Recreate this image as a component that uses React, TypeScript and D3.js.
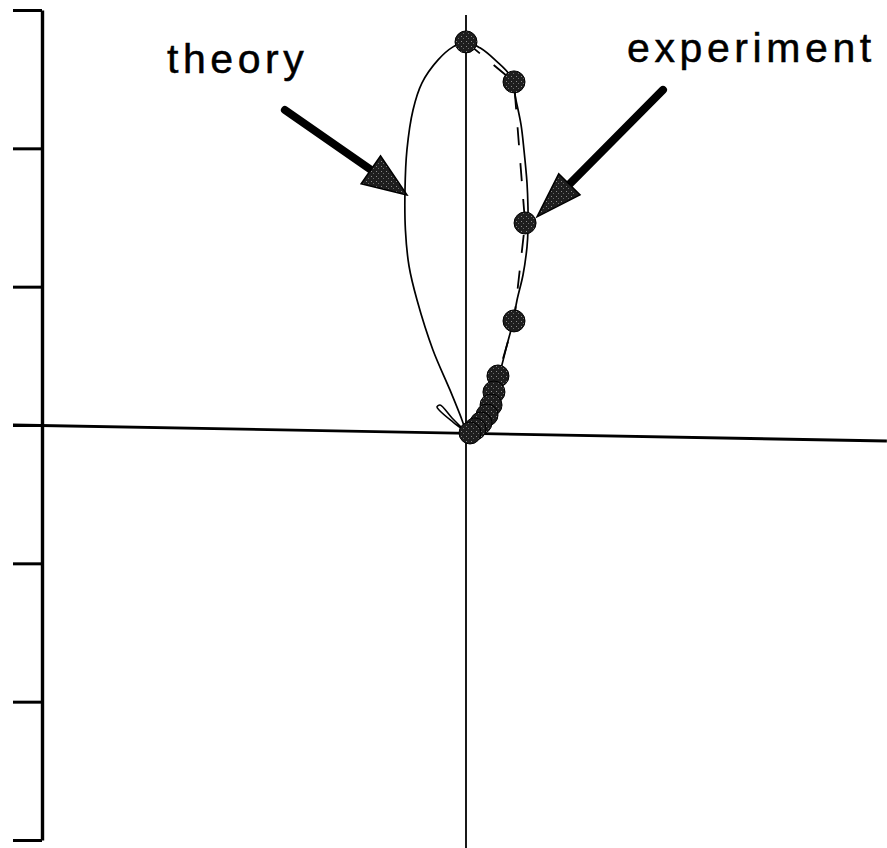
import React, { useEffect, useRef } from "react";
import * as d3 from "d3";

// Theory curve: main lobe traced from the origin up the left side, over the top and back down the right side
const theoryMainX = [0, -0.029, -0.116, -0.239, -0.354, -0.412, -0.438, -0.441, -0.427, -0.383, -0.318, -0.202, -0.094, 0, 0.101, 0.210, 0.325, 0.361, 0.398, 0.419, 0.441, 0.448, 0.448, 0.441, 0.412, 0.369, 0.340, 0.296, 0.239, 0.166, 0.080, 0];
const theoryMainY = [0, 0.087, 0.304, 0.593, 0.954, 1.200, 1.461, 1.750, 2.039, 2.328, 2.524, 2.690, 2.784, 2.820, 2.777, 2.690, 2.567, 2.401, 2.220, 2.039, 1.800, 1.627, 1.461, 1.338, 1.135, 0.954, 0.796, 0.629, 0.412, 0.217, 0.058, 0];
// Theory curve: small side lobe
const theoryLobeX = [0, -0.101, -0.188, -0.210, -0.188, -0.094, 0];
const theoryLobeY = [0, 0.101, 0.195, 0.181, 0.152, 0.072, 0];
// Measured points
const expX = [0, 0.347, 0.427, 0.347, 0.231, 0.202, 0.181, 0.152, 0.108, 0.065, 0.029];
const expY = [2.820, 2.531, 1.511, 0.803, 0.405, 0.289, 0.195, 0.123, 0.065, 0.022, -0.007];
// Left ruler tick values
const rulerTicks = [-3, -2, -1, 0, 1, 2, 3];
// Annotation labels
const labels = ["theory", "experiment"];

const W = 887;
const H = 848;

export default function App() {
  const ref = useRef<SVGSVGElement>(null);

  useEffect(() => {
    const svg = d3.select(ref.current);
    svg.selectAll("*").remove();

    const x = d3.scaleLinear().domain([-3, 3]).range([51, 881]);
    const y = d3.scaleLinear().domain([-3, 3]).range([847, 17]);
    const yRuler = d3.scaleLinear().domain([-3, 3]).range([840, 10]);

    const defs = svg.append("defs");
    const pat = defs
      .append("pattern")
      .attr("id", "speckle")
      .attr("patternUnits", "userSpaceOnUse")
      .attr("width", 5)
      .attr("height", 5);
    pat.append("rect").attr("width", 5).attr("height", 5).attr("fill", "#1e1e1e");
    pat.append("rect").attr("x", 1).attr("y", 1).attr("width", 1).attr("height", 1).attr("fill", "#8a8a8a");
    pat.append("rect").attr("x", 3).attr("y", 3).attr("width", 1).attr("height", 1).attr("fill", "#6a6a6a");

    svg.append("rect").attr("width", W).attr("height", H).attr("fill", "#fff");

    // Left ruler
    const ruler = d3
      .axisLeft(yRuler)
      .tickValues(rulerTicks)
      .tickSize(29)
      .tickSizeOuter(0)
      .tickFormat(() => "");
    const rg = svg.append("g").attr("transform", "translate(42,0)").call(ruler);
    rg.select(".domain").attr("stroke", "#000").attr("stroke-width", 3.4);
    rg.selectAll(".tick line").attr("stroke", "#000").attr("stroke-width", 3);

    // Horizontal axis (slightly skewed)
    const y0 = yRuler(0);
    svg
      .append("line")
      .attr("x1", 13)
      .attr("x2", W)
      .attr("y1", y0)
      .attr("y2", y0)
      .attr("transform", `rotate(1.05, 13, ${y0})`)
      .attr("stroke", "#000")
      .attr("stroke-width", 2.8);

    // Vertical axis through the origin
    svg
      .append("line")
      .attr("x1", x(0))
      .attr("x2", x(0))
      .attr("y1", 15)
      .attr("y2", H)
      .attr("stroke", "#000")
      .attr("stroke-width", 1.8);

    const line = d3
      .line<[number, number]>()
      .x((d) => x(d[0]))
      .y((d) => y(d[1]))
      .curve(d3.curveCatmullRom.alpha(0.5));

    const mainPts = theoryMainX.map((v, i) => [v, theoryMainY[i]] as [number, number]);
    const lobePts = theoryLobeX.map((v, i) => [v, theoryLobeY[i]] as [number, number]);
    const expPts = expX.map((v, i) => [v, expY[i]] as [number, number]);

    svg.append("path").attr("d", line(mainPts)).attr("fill", "none").attr("stroke", "#000").attr("stroke-width", 1.7);
    svg.append("path").attr("d", line(lobePts)).attr("fill", "none").attr("stroke", "#000").attr("stroke-width", 1.6);

    const straight = d3
      .line<[number, number]>()
      .x((d) => x(d[0]))
      .y((d) => y(d[1]));
    svg
      .append("path")
      .attr("d", straight(expPts))
      .attr("fill", "none")
      .attr("stroke", "#000")
      .attr("stroke-width", 1.8)
      .attr("stroke-dasharray", "18,18");

    svg
      .append("g")
      .selectAll("circle")
      .data(expPts)
      .join("circle")
      .attr("cx", (d) => x(d[0]))
      .attr("cy", (d) => y(d[1]))
      .attr("r", 11)
      .attr("fill", "url(#speckle)")
      .attr("stroke", "#000")
      .attr("stroke-width", 1);

    // Annotation arrows (tail -> tip, in data units)
    const arrows: { tail: [number, number]; tip: [number, number]; headLen: number; headHalf: number }[] = [
      { tail: [-1.309, 2.328], tip: [-0.427, 1.714], headLen: 44, headHalf: 17 },
      { tail: [1.424, 2.473], tip: [0.513, 1.555], headLen: 46, headHalf: 15 },
    ];
    arrows.forEach((a) => {
      const tx = x(a.tail[0]);
      const ty = y(a.tail[1]);
      const px = x(a.tip[0]);
      const py = y(a.tip[1]);
      const len = Math.hypot(px - tx, py - ty);
      const ux = (px - tx) / len;
      const uy = (py - ty) / len;
      const bx = px - ux * a.headLen;
      const by = py - uy * a.headLen;
      svg
        .append("line")
        .attr("x1", tx)
        .attr("y1", ty)
        .attr("x2", bx + ux * 4)
        .attr("y2", by + uy * 4)
        .attr("stroke", "#000")
        .attr("stroke-width", 8)
        .attr("stroke-linecap", "round");
      const nx = -uy;
      const ny = ux;
      const head = [
        [px, py],
        [bx + nx * a.headHalf, by + ny * a.headHalf],
        [bx - nx * a.headHalf, by - ny * a.headHalf],
      ];
      svg
        .append("polygon")
        .attr("points", head.map((p) => p.join(",")).join(" "))
        .attr("fill", "url(#speckle)")
        .attr("stroke", "#000")
        .attr("stroke-width", 1.5);
    });

    // Labels
    const labelPos: [number, number][] = [
      [-2.162, 2.596],
      [1.164, 2.675],
    ];
    svg
      .append("g")
      .selectAll("text")
      .data(labels)
      .join("text")
      .attr("x", (_, i) => x(labelPos[i][0]))
      .attr("y", (_, i) => y(labelPos[i][1]))
      .attr("font-family", "'Liberation Sans', Arial, sans-serif")
      .attr("font-size", 41)
      .attr("letter-spacing", 4.6)
      .attr("fill", "#000")
      .attr("stroke", "#000")
      .attr("stroke-width", 0.5)
      .text((d) => d);
  }, []);

  return (
    <svg
      ref={ref}
      width={W}
      height={H}
      style={{ position: "absolute", left: 0, top: 0, display: "block" }}
    />
  );
}
